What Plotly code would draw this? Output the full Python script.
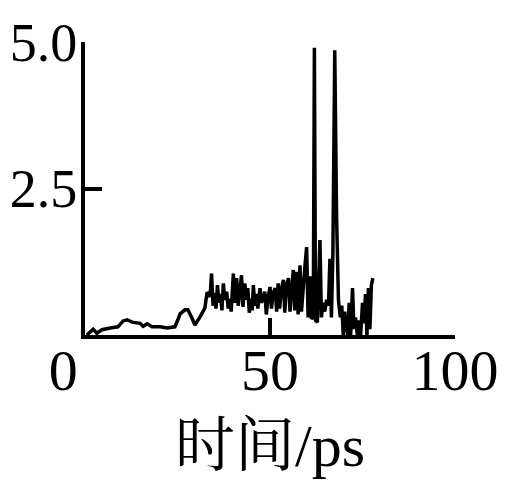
import plotly.graph_objects as go

# time (ps) and value series
time_ps = [0.5, 2.2, 3.2, 4.6, 6.8, 8.9, 10.3, 11.4, 12.7, 14.9, 15.7, 16.8, 18.1, 20.3, 22.2,
           24.3, 25.1, 25.7, 27.0, 27.8, 28.9, 29.7, 31.1, 32.4, 33.0, 33.8,
           34.2, 34.6, 35.0, 35.4, 35.8, 36.2, 36.6, 37.0, 37.4, 37.8, 38.3, 38.7, 39.1, 39.5,
           40.1, 40.5, 41.0, 41.4, 41.8, 42.3, 42.7, 43.2, 43.6, 44.0, 44.4, 44.8, 45.2, 45.5,
           45.9, 46.3, 46.7, 47.3, 47.7, 48.2, 48.6, 49.0, 49.4, 50.0, 50.4, 50.8, 51.4, 51.8,
           52.2, 52.6, 53.0, 53.6, 54.0, 54.4, 55.0, 55.4, 55.8, 56.3, 56.7, 57.2, 57.6, 58.1,
           58.5, 59.0, 59.5, 59.9, 60.3, 60.8, 61.2, 61.7, 62.0, 62.3, 62.8, 63.5, 63.9, 64.3,
           64.8, 65.3, 65.8, 66.2, 66.6, 67.0, 67.5, 68.0, 68.5, 69.0, 69.4, 69.8, 70.2, 70.6,
           71.0, 71.4, 71.8, 72.3, 72.7, 73.1, 73.6, 74.0, 74.5, 75.0, 75.4, 75.8, 76.2, 76.6,
           77.0, 77.4, 77.8]
values = [0.0, 0.1, 0.03, 0.09, 0.12, 0.14, 0.24, 0.26, 0.22, 0.2, 0.15, 0.19, 0.14, 0.14, 0.12,
          0.14, 0.26, 0.36, 0.43, 0.43, 0.29, 0.17, 0.31, 0.46, 0.73, 0.65,
          1.05, 0.5, 0.72, 0.45, 0.85, 0.55, 0.7, 0.42, 0.88, 0.6, 0.74, 0.45, 0.62, 0.4,
          1.05, 0.55, 0.97, 0.5, 0.7, 1.02, 0.48, 0.88, 0.6, 0.8, 0.38, 0.62, 0.42, 0.85,
          0.5, 0.7, 0.45, 0.8, 0.55, 0.65, 0.74, 0.35, 0.6, 0.82, 0.45, 0.7, 0.8, 0.4,
          0.88, 0.45, 0.75, 0.94, 0.38, 0.85, 0.97, 0.4, 0.8, 1.11, 0.42, 1.08, 0.35, 1.19,
          0.4, 0.9, 1.22, 1.5, 0.3, 1.0, 0.28, 0.3, 4.9, 0.25, 0.22, 1.62, 0.3, 0.55,
          0.4, 0.6, 0.5, 1.3, 0.3, 1.4, 4.86, 2.0, 0.6, 0.3, 0.5, 0.0, 0.4, 0.15,
          0.0, 0.55, 0.0, 0.8, 0.1, 0.3, 0.0, 0.25, 0.0, 0.55, 0.2, 0.7, 0.0, 0.8,
          0.1, 0.85, 0.97]

x_ticks = [0, 50, 100]
x_tick_text = ["0\u00a0\u00a0\u00a0", "50", "100"]
y_ticks = [2.5, 5.0]
y_tick_text = ["2.5", "5.0"]

serif = "Times New Roman, Liberation Serif, Noto Serif CJK SC, Noto Sans CJK SC, serif"

fig = go.Figure()
fig.add_trace(go.Scatter(x=time_ps, y=values, mode="lines",
                         line=dict(color="black", width=3.5), showlegend=False))

fig.update_layout(
    width=498, height=478,
    margin=dict(l=77, r=51, t=34, b=151),
    paper_bgcolor="white", plot_bgcolor="white",
    font=dict(family=serif, color="black"),
)
fig.update_xaxes(
    range=[0, 100], tickvals=x_ticks, ticktext=x_tick_text,
    showline=True, linecolor="black", linewidth=4, mirror=False,
    ticks="inside", ticklen=17, tickwidth=4, tickcolor="black",
    showgrid=False, zeroline=False, automargin=False,
    ticklabelstandoff=-19,
    tickfont=dict(size=58, family=serif),
    title=dict(text="时间/ps", font=dict(size=60, family=serif), standoff=23),
)
fig.update_yaxes(
    range=[0, 5], tickvals=y_ticks, ticktext=y_tick_text,
    showline=True, linecolor="black", linewidth=4,
    ticks="inside", ticklen=17, tickwidth=4, tickcolor="black",
    showgrid=False, zeroline=False, automargin=False,
    ticklabelstandoff=-7,
    tickfont=dict(size=54, family=serif),
)

fig.write_html("out.html")
